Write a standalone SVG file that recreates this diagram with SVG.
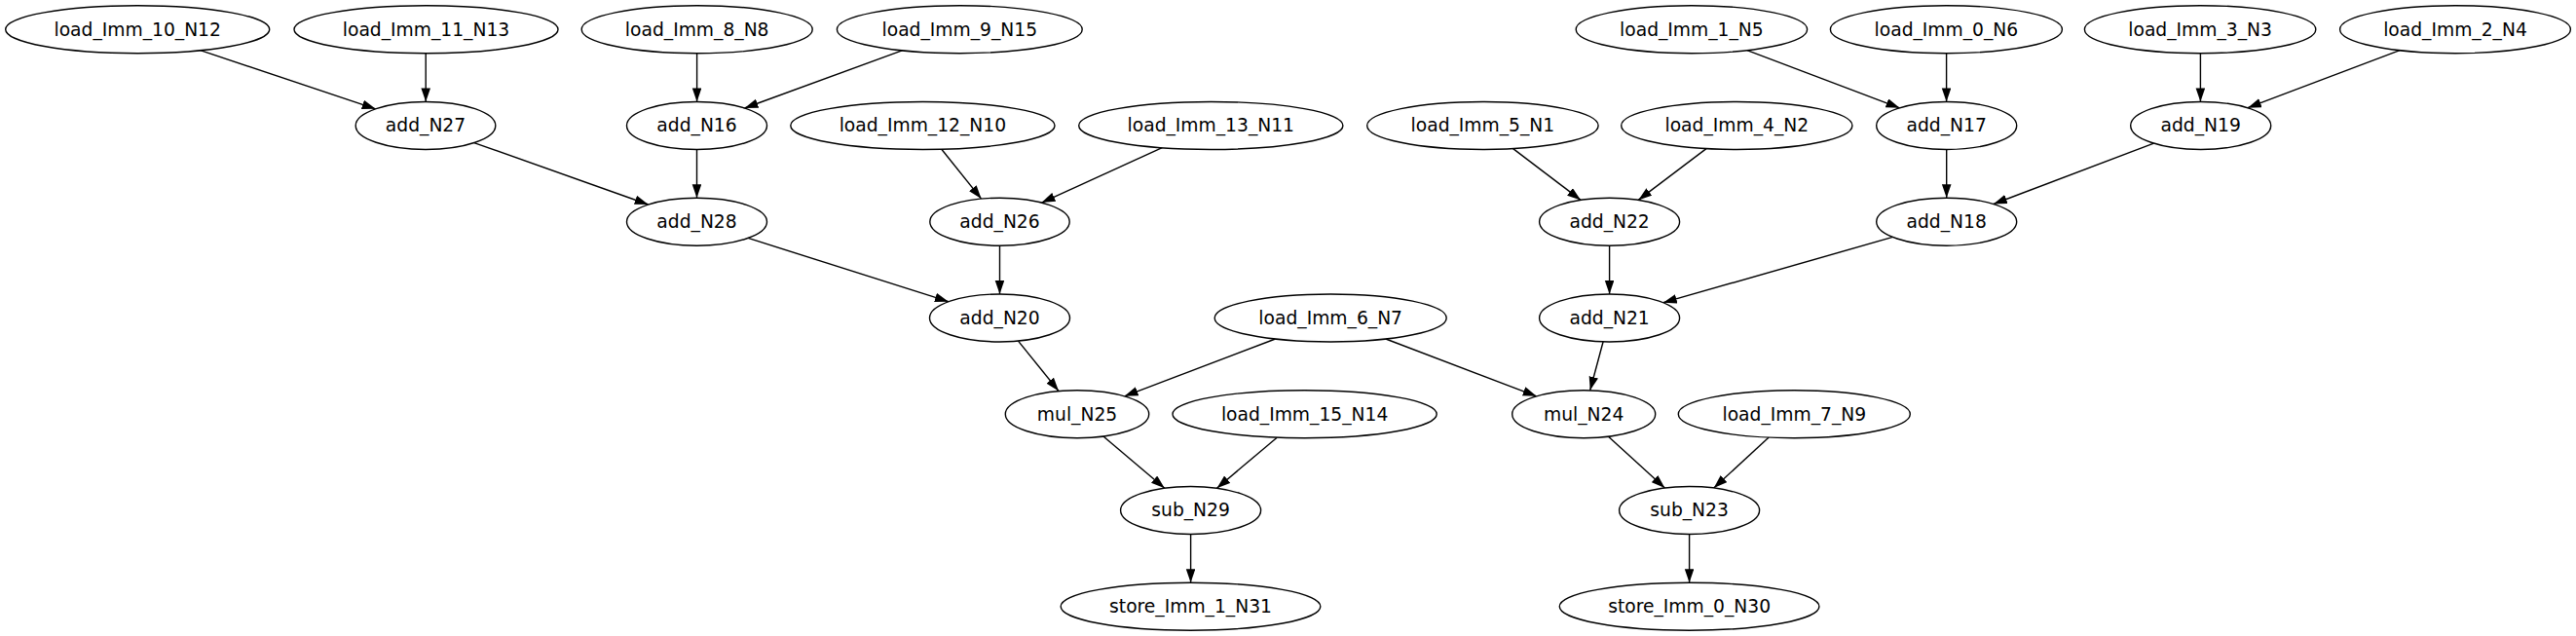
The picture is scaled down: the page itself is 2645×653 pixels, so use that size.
<svg xmlns="http://www.w3.org/2000/svg" width="2645" height="653" viewBox="0 0 2645 653">
<style>
.n ellipse{fill:#fff;stroke:#000;stroke-width:1.4}
.n text{font-family:"DejaVu Sans","Liberation Sans",sans-serif;font-size:18.7px;text-anchor:middle;fill:#000}
#edges line{stroke:#000;stroke-width:1.4;marker-end:url(#ah)}
</style>
<defs>
<marker id="ah" markerUnits="userSpaceOnUse" markerWidth="14" markerHeight="10" refX="14" refY="4.8" orient="auto">
<path d="M0,0 L14,4.8 L0,9.6 z" fill="#000"/>
</marker>
</defs>
<rect width="2645" height="653" fill="#fff"/>
<g id="edges">
<line x1="205.7" y1="51.7" x2="385.7" y2="111.8"/>
<line x1="437.2" y1="54.7" x2="437.2" y2="104.45"/>
<line x1="715.6" y1="54.7" x2="715.6" y2="104.45"/>
<line x1="926.2" y1="51.8" x2="764.5" y2="111.0"/>
<line x1="486.8" y1="146.6" x2="665.65" y2="210.0"/>
<line x1="715.5" y1="153.45" x2="715.5" y2="203.2"/>
<line x1="966.8" y1="153.2" x2="1007.6" y2="204.1"/>
<line x1="1193.3" y1="151.7" x2="1069.5" y2="208.1"/>
<line x1="768.1" y1="244.4" x2="973.9" y2="309.7"/>
<line x1="1026.5" y1="252.2" x2="1026.5" y2="301.95"/>
<line x1="1045.5" y1="350.1" x2="1087.0" y2="401.5"/>
<line x1="1309.5" y1="348.0" x2="1154.6" y2="406.8"/>
<line x1="1422.9" y1="348.0" x2="1577.7" y2="406.8"/>
<line x1="1132.9" y1="448.0" x2="1195.8" y2="501.2"/>
<line x1="1311.2" y1="449.2" x2="1249.5" y2="501.2"/>
<line x1="1222.6" y1="548.45" x2="1222.6" y2="598.2"/>
<line x1="1793.9" y1="51.7" x2="1950.5" y2="110.8"/>
<line x1="1998.6" y1="54.7" x2="1998.6" y2="104.45"/>
<line x1="2259.4" y1="54.7" x2="2259.4" y2="104.45"/>
<line x1="2464.1" y1="51.7" x2="2307.9" y2="110.7"/>
<line x1="1998.7" y1="153.45" x2="1998.7" y2="203.2"/>
<line x1="2211.5" y1="147.2" x2="2046.9" y2="209.5"/>
<line x1="1553.6" y1="152.6" x2="1623.1" y2="205.4"/>
<line x1="1752.0" y1="152.6" x2="1682.2" y2="205.4"/>
<line x1="1652.6" y1="252.2" x2="1652.6" y2="301.95"/>
<line x1="1943.5" y1="243.4" x2="1707.8" y2="310.7"/>
<line x1="1646.1" y1="350.8" x2="1632.7" y2="400.8"/>
<line x1="1651.5" y1="448.2" x2="1709.4" y2="501.0"/>
<line x1="1816.2" y1="449.1" x2="1759.7" y2="501.0"/>
<line x1="1734.6" y1="548.45" x2="1734.6" y2="598.2"/>
</g>
<g id="load_Imm_10_N12" class="n"><ellipse cx="141.2" cy="30.2" rx="135.5" ry="24.5"/><text x="141.2" y="36.7">load_Imm_10_N12</text></g>
<g id="load_Imm_11_N13" class="n"><ellipse cx="437.5" cy="30.2" rx="135.5" ry="24.5"/><text x="437.5" y="36.7">load_Imm_11_N13</text></g>
<g id="load_Imm_8_N8" class="n"><ellipse cx="715.7" cy="30.2" rx="118.5" ry="24.5"/><text x="715.7" y="36.7">load_Imm_8_N8</text></g>
<g id="load_Imm_9_N15" class="n"><ellipse cx="985.3" cy="30.2" rx="125.9" ry="24.5"/><text x="985.3" y="36.7">load_Imm_9_N15</text></g>
<g id="load_Imm_1_N5" class="n"><ellipse cx="1736.9" cy="30.2" rx="118.7" ry="24.5"/><text x="1736.9" y="36.7">load_Imm_1_N5</text></g>
<g id="load_Imm_0_N6" class="n"><ellipse cx="1998.4" cy="30.2" rx="119" ry="24.5"/><text x="1998.4" y="36.7">load_Imm_0_N6</text></g>
<g id="load_Imm_3_N3" class="n"><ellipse cx="2259.1" cy="30.2" rx="118.7" ry="24.5"/><text x="2259.1" y="36.7">load_Imm_3_N3</text></g>
<g id="load_Imm_2_N4" class="n"><ellipse cx="2521" cy="30.2" rx="118.4" ry="24.5"/><text x="2521" y="36.7">load_Imm_2_N4</text></g>
<g id="add_N27" class="n"><ellipse cx="437" cy="128.95" rx="71.8" ry="24.5"/><text x="437" y="135.45">add_N27</text></g>
<g id="add_N16" class="n"><ellipse cx="715.5" cy="128.95" rx="72" ry="24.5"/><text x="715.5" y="135.45">add_N16</text></g>
<g id="load_Imm_12_N10" class="n"><ellipse cx="947.4" cy="128.95" rx="135.6" ry="24.5"/><text x="947.4" y="135.45">load_Imm_12_N10</text></g>
<g id="load_Imm_13_N11" class="n"><ellipse cx="1243.3" cy="128.95" rx="135.6" ry="24.5"/><text x="1243.3" y="135.45">load_Imm_13_N11</text></g>
<g id="load_Imm_5_N1" class="n"><ellipse cx="1522.4" cy="128.95" rx="118.7" ry="24.5"/><text x="1522.4" y="135.45">load_Imm_5_N1</text></g>
<g id="load_Imm_4_N2" class="n"><ellipse cx="1783.3" cy="128.95" rx="118.6" ry="24.5"/><text x="1783.3" y="135.45">load_Imm_4_N2</text></g>
<g id="add_N17" class="n"><ellipse cx="1998.7" cy="128.95" rx="72" ry="24.5"/><text x="1998.7" y="135.45">add_N17</text></g>
<g id="add_N19" class="n"><ellipse cx="2259.7" cy="128.95" rx="72" ry="24.5"/><text x="2259.7" y="135.45">add_N19</text></g>
<g id="add_N28" class="n"><ellipse cx="715.5" cy="227.7" rx="72" ry="24.5"/><text x="715.5" y="234.2">add_N28</text></g>
<g id="add_N26" class="n"><ellipse cx="1026.5" cy="227.7" rx="71.7" ry="24.5"/><text x="1026.5" y="234.2">add_N26</text></g>
<g id="add_N22" class="n"><ellipse cx="1652.6" cy="227.7" rx="72" ry="24.5"/><text x="1652.6" y="234.2">add_N22</text></g>
<g id="add_N18" class="n"><ellipse cx="1998.7" cy="227.7" rx="72" ry="24.5"/><text x="1998.7" y="234.2">add_N18</text></g>
<g id="add_N20" class="n"><ellipse cx="1026.5" cy="326.45" rx="72" ry="24.5"/><text x="1026.5" y="332.95">add_N20</text></g>
<g id="load_Imm_6_N7" class="n"><ellipse cx="1366.2" cy="326.45" rx="119" ry="24.5"/><text x="1366.2" y="332.95">load_Imm_6_N7</text></g>
<g id="add_N21" class="n"><ellipse cx="1652.6" cy="326.45" rx="72" ry="24.5"/><text x="1652.6" y="332.95">add_N21</text></g>
<g id="mul_N25" class="n"><ellipse cx="1106" cy="425.2" rx="73.7" ry="24.5"/><text x="1106" y="431.7">mul_N25</text></g>
<g id="load_Imm_15_N14" class="n"><ellipse cx="1339.6" cy="425.2" rx="135.6" ry="24.5"/><text x="1339.6" y="431.7">load_Imm_15_N14</text></g>
<g id="mul_N24" class="n"><ellipse cx="1626.2" cy="425.2" rx="73.5" ry="24.5"/><text x="1626.2" y="431.7">mul_N24</text></g>
<g id="load_Imm_7_N9" class="n"><ellipse cx="1842.3" cy="425.2" rx="119" ry="24.5"/><text x="1842.3" y="431.7">load_Imm_7_N9</text></g>
<g id="sub_N29" class="n"><ellipse cx="1222.6" cy="523.95" rx="72" ry="24.5"/><text x="1222.6" y="530.45">sub_N29</text></g>
<g id="sub_N23" class="n"><ellipse cx="1734.6" cy="523.95" rx="72" ry="24.5"/><text x="1734.6" y="530.45">sub_N23</text></g>
<g id="store_Imm_1_N31" class="n"><ellipse cx="1222.5" cy="622.7" rx="133.3" ry="24.5"/><text x="1222.5" y="629.2">store_Imm_1_N31</text></g>
<g id="store_Imm_0_N30" class="n"><ellipse cx="1734.6" cy="622.7" rx="133.3" ry="24.5"/><text x="1734.6" y="629.2">store_Imm_0_N30</text></g>
</svg>
